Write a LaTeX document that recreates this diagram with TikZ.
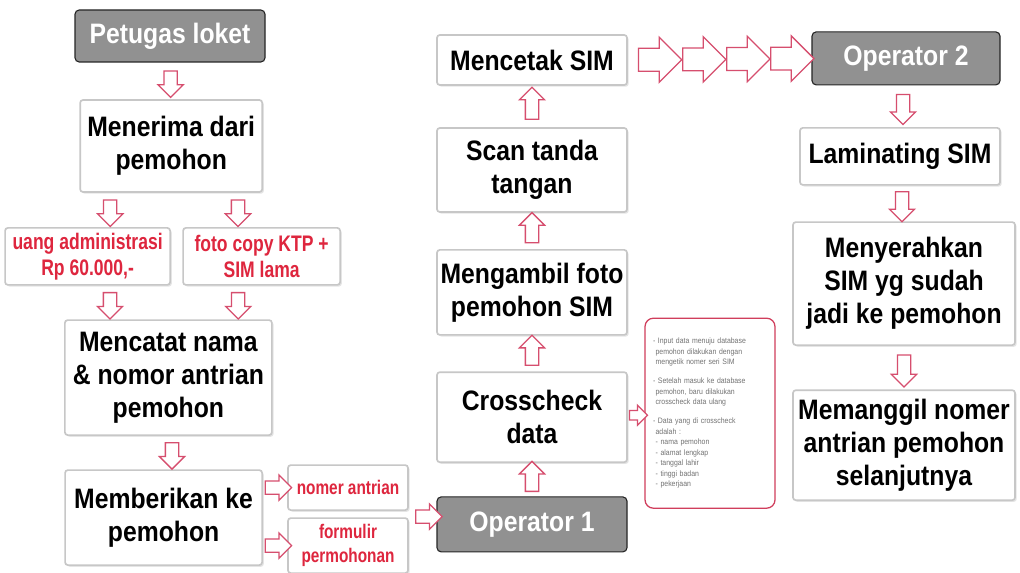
\documentclass[tikz,border=0pt]{standalone}
\usepackage{fontspec}
\setmainfont[FakeStretch=0.88]{Liberation Sans}
\newfontfamily\narrowfont[FakeStretch=0.78]{Liberation Sans}
\usepackage{tikz}
\usetikzlibrary{calc}
\usetikzlibrary{shapes.arrows}
\usetikzlibrary{shadows}
\usepackage{color}
\definecolor{arrowpink}{RGB}{214, 78, 110}
\definecolor{labelred}{RGB}{222, 38, 62}
\definecolor{panelgray}{RGB}{145, 145, 145}
\definecolor{notered}{RGB}{208, 62, 92}

\tikzset{
  stepbox/.style={draw=black!22, line width=1.2pt, fill=white, rounded corners=2pt, align=center,
    inner sep=2pt, font=\fontsize{20}{23.5}\selectfont\bfseries,
    drop shadow={shadow xshift=1.2pt, shadow yshift=-1.2pt, opacity=0.2}},
  rolebox/.style={draw=black!85, thick, fill=panelgray, rounded corners=3pt, text=white, align=center,
    font=\fontsize{20}{23.5}\selectfont\bfseries},
  itembox/.style={stepbox, text=labelred, font=\narrowfont\fontsize{16}{18.5}\selectfont\bfseries},
  flowarrow/.style={single arrow, draw=arrowpink, line width=0.9pt, fill=white, inner xsep=0pt,
    inner ysep=0.15cm, minimum width=0.6cm, minimum height=0.66cm, single arrow head extend=0.15cm},
  bigarrow/.style={flowarrow, inner ysep=0.27cm, minimum width=1.1cm, minimum height=1.08cm,
    single arrow head extend=0.28cm}
}

\begin{document}
\begin{tikzpicture}
            \fill[white] (0,0) rectangle (25.5,-14.325);
            \useasboundingbox (0,0) rectangle (25.5,-14.325);
            % Petugas loket
            \node[rolebox, minimum width=4.75cm,  minimum height=1.3cm]   (loket)    at ( 4.25, -0.90) {Petugas loket};
            \node[stepbox, minimum width=4.55cm,  minimum height=2.3cm]   (terima)   at ( 4.28, -3.65) {Menerima dari\\pemohon};
            \node[itembox, minimum width=4.125cm, minimum height=1.425cm] (uang)     at ( 2.19, -6.41) {uang administrasi\\Rp 60.000,-};
            \node[itembox, minimum width=3.925cm, minimum height=1.425cm] (fotokopi) at ( 6.54, -6.41) {foto copy KTP +\\SIM lama};
            \node[stepbox, minimum width=5.175cm, minimum height=2.875cm] (catat)    at ( 4.21, -9.44) {Mencatat nama\\\& nomor antrian\\pemohon};
            \node[stepbox, minimum width=4.925cm, minimum height=2.375cm] (beri)     at ( 4.09,-12.94) {Memberikan ke\\pemohon};
            \node[itembox, minimum width=3.0cm,   minimum height=1.125cm,
                  font=\narrowfont\fontsize{14}{17.5}\selectfont\bfseries] (nomer)   at ( 8.70,-12.19) {nomer antrian};
            \node[itembox, minimum width=3.0cm,   minimum height=1.375cm,
                  font=\narrowfont\fontsize{14}{17.5}\selectfont\bfseries] (formulir) at ( 8.70,-13.64) {formulir\\permohonan};
            % Operator 1
            \node[rolebox, minimum width=4.75cm,  minimum height=1.375cm] (op1)      at (13.30,-13.11) {Operator 1};
            \node[stepbox, minimum width=4.75cm,  minimum height=2.25cm]  (cek)      at (13.30,-10.43) {Crosscheck\\data};
            \node[stepbox, minimum width=4.75cm,  minimum height=2.125cm] (foto)     at (13.30, -7.31) {Mengambil foto\\pemohon SIM};
            \node[stepbox, minimum width=4.75cm,  minimum height=2.1cm]   (ttd)      at (13.30, -4.25) {Scan tanda\\tangan};
            \node[stepbox, minimum width=4.75cm,  minimum height=1.25cm]  (cetak)    at (13.30, -1.50) {Mencetak SIM};
            % Keterangan crosscheck
            \node[draw=notered, line width=0.9pt, rounded corners=6pt, fill=white,
                  minimum width=3.25cm, minimum height=4.75cm, text width=2.85cm, align=left,
                  text=black!55, font=\fontsize{5.6}{7.5}\selectfont]      (catatan)  at (17.75,-10.33)
                 {- Input data menuju database\\ \ pemohon dilakukan dengan\\ \ mengetik nomer seri SIM\\[6pt]
                  - Setelah masuk ke database\\ \ pemohon, baru dilakukan\\ \ crosscheck data ulang\\[6pt]
                  - Data yang di crosscheck\\ \ adalah :\\
                  \ - nama pemohon\\ \ - alamat lengkap\\ \ - tanggal lahir\\ \ - tinggi badan\\ \ - pekerjaan};
            % Operator 2
            \node[rolebox, minimum width=4.7cm,   minimum height=1.325cm] (op2)      at (22.65, -1.46) {Operator 2};
            \node[stepbox, minimum width=5.0cm,   minimum height=1.425cm] (laminasi) at (22.50, -3.91) {Laminating SIM};
            \node[stepbox, minimum width=5.55cm,  minimum height=3.075cm] (serah)    at (22.60, -7.09) {Menyerahkan\\SIM yg sudah\\jadi ke pemohon};
            \node[stepbox, minimum width=5.55cm,  minimum height=2.75cm]  (panggil)  at (22.60,-11.13) {Memanggil nomer\\antrian pemohon\\selanjutnya};
            % Arrows, left
            \node[flowarrow, rotate=-90] at ($(loket.south)!.5!(terima.north)$) {};
            \node[flowarrow, rotate=-90] at ($(terima.south)!.5!(uang.north)+(-0.48,0)$) {};
            \node[flowarrow, rotate=-90] at ($(terima.south)!.5!(fotokopi.north)+(0.54,0)$) {};
            \node[flowarrow, rotate=-90] at ($(uang.south)!.5!(catat.north)+(-0.45,0)$) {};
            \node[flowarrow, rotate=-90] at ($(fotokopi.south)!.5!(catat.north)+(0.58,0)$) {};
            \node[flowarrow, rotate=-90] at ($(catat.south)!.5!(beri.north)+(0.15,0)$) {};
            \node[flowarrow]             at ($(beri.east |- nomer.west)!.5!(nomer.west)$) {};
            \node[flowarrow]             at ($(beri.east |- formulir.west)!.5!(formulir.west)$) {};
            \node[flowarrow]             at ($(nomer.east)!.5!(formulir.east)+(0.42,0)$) {};
            % Arrows, middle
            \node[flowarrow, rotate=90, minimum height=0.75cm] at ($(op1.north)!.5!(cek.south)$) {};
            \node[flowarrow, rotate=90, minimum height=0.75cm] at ($(cek.north)!.5!(foto.south)$) {};
            \node[flowarrow, rotate=90, minimum height=0.75cm] at ($(foto.north)!.5!(ttd.south)$) {};
            \node[flowarrow, rotate=90, minimum height=0.8cm]  at ($(ttd.north)!.5!(cetak.south)$) {};
            \node[flowarrow, inner ysep=0.1cm, minimum width=0.5cm, minimum height=0.45cm, single arrow head extend=0.13cm]
                                         at ($(cek.east)!.5!(catatan.west)$) {};
            \foreach \f in {0.145,0.385,0.625,0.865}
                \node[bigarrow] at ($(cetak.east)!\f!(op2.west)$) {};
            % Arrows, right
            \node[flowarrow, rotate=-90, minimum height=0.75cm] at ($(op2.south)!.5!(laminasi.north)$) {};
            \node[flowarrow, rotate=-90, minimum height=0.75cm] at ($(laminasi.south)!.5!(serah.north)$) {};
            \node[flowarrow, rotate=-90, minimum height=0.8cm]  at ($(serah.south)!.5!(panggil.north)$) {};
        \end{tikzpicture}
\end{document}
